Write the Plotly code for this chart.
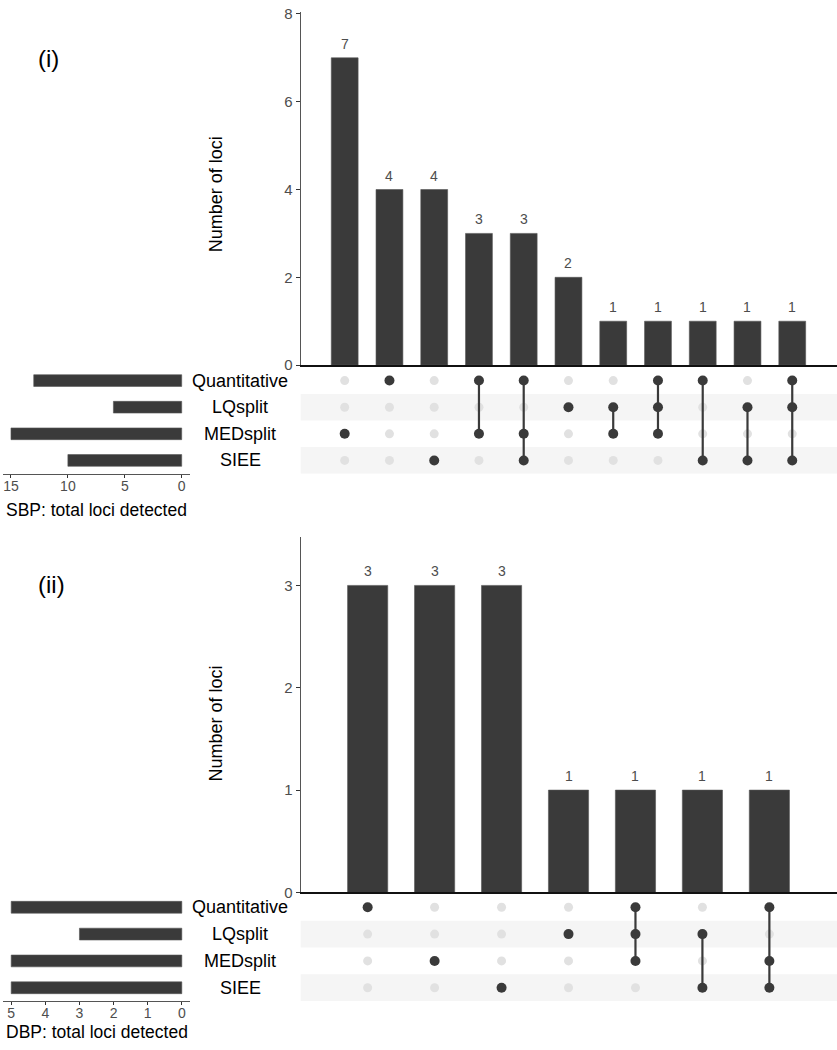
import plotly.graph_objects as go

# ---------------- data ----------------
sets = ["Quantitative", "LQsplit", "MEDsplit", "SIEE"]

sbp_counts = [7, 4, 4, 3, 3, 2, 1, 1, 1, 1, 1]
sbp_members = [
    ["MEDsplit"],
    ["Quantitative"],
    ["SIEE"],
    ["Quantitative", "MEDsplit"],
    ["Quantitative", "MEDsplit", "SIEE"],
    ["LQsplit"],
    ["LQsplit", "MEDsplit"],
    ["Quantitative", "LQsplit", "MEDsplit"],
    ["Quantitative", "SIEE"],
    ["LQsplit", "SIEE"],
    ["Quantitative", "LQsplit", "SIEE"],
]
sbp_set_sizes = [13, 6, 15, 10]
sbp_ticks = [0, 2, 4, 6, 8]
sbp_size_ticks = [0, 5, 10, 15]

dbp_counts = [3, 3, 3, 1, 1, 1, 1]
dbp_members = [
    ["Quantitative"],
    ["MEDsplit"],
    ["SIEE"],
    ["LQsplit"],
    ["Quantitative", "LQsplit", "MEDsplit"],
    ["LQsplit", "SIEE"],
    ["Quantitative", "MEDsplit", "SIEE"],
]
dbp_set_sizes = [5, 3, 5, 5]
dbp_ticks = [0, 1, 2, 3]
dbp_size_ticks = [0, 1, 2, 3, 4, 5]

panel_labels = ["(i)", "(ii)"]
size_titles = ["SBP: total loci detected", "DBP: total loci detected"]
y_title = "Number of loci"

# ---------------- layout helpers ----------------
W, H = 837, 1050
FONT = "Liberation Sans, Arial, sans-serif"
DARK = "#3a3a3a"
LIGHT = "#e1e1e1"
BAND = "#f5f5f5"
TICKC = "#4d4d4d"


def fx(px):
    return px / W


def fy(py):
    return 1 - py / H


fig = go.Figure()
layout = dict(
    width=W, height=H, margin=dict(l=0, r=0, t=0, b=0),
    paper_bgcolor="white", plot_bgcolor="white", showlegend=False,
    font=dict(family=FONT, color="black"),
    shapes=[], annotations=[],
)

panels = [
    dict(counts=sbp_counts, members=sbp_members, sizes=sbp_set_sizes,
         ticks=sbp_ticks, size_ticks=sbp_size_ticks,
         xr=[-0.983, 11.0], bar_dom=(363.3, 5.0), bar_top=8.045,
         mat_dom=(473.5, 365.5), size_xr=[15.7, -0.73],
         label_xy=(48, 52), ytitle_y=190, stitle_y=510),
    dict(counts=dbp_counts, members=dbp_members, sizes=dbp_set_sizes,
         ticks=dbp_ticks, size_ticks=dbp_size_ticks,
         xr=[-1.0, 7.01], bar_dom=(898.3, 538.0), bar_top=3.47,
         mat_dom=(1008.6, 899.7), size_xr=[5.24, -0.24],
         label_xy=(51, 586), ytitle_y=727, stitle_y=1040),
]

for p_i, p in enumerate(panels):
    n = len(p["counts"])
    xs = list(range(n))
    base = p_i * 3
    ax_bar, ax_mat, ax_size = base + 1, base + 2, base + 3

    def nm(k):
        return "" if k == 1 else str(k)

    # --- intersection bars ---
    fig.add_trace(go.Bar(
        x=xs, y=p["counts"], width=0.6,
        marker=dict(color=DARK, line=dict(color="#555555", width=0.6)),
        xaxis="x" + nm(ax_bar), yaxis="y" + nm(ax_bar), hoverinfo="skip"))
    for xi, c in zip(xs, p["counts"]):
        layout["annotations"].append(dict(
            x=xi, y=c, xref="x" + nm(ax_bar), yref="y" + nm(ax_bar),
            text=str(c), showarrow=False, yanchor="bottom", yshift=4,
            font=dict(size=14, color=TICKC, family=FONT)))

    layout["xaxis" + nm(ax_bar)] = dict(
        domain=[fx(300.7), 1.0], range=p["xr"], anchor="y" + nm(ax_bar),
        showticklabels=False, ticks="", showgrid=False, zeroline=False,
        showline=True, linecolor="#111111", linewidth=1.6)
    layout["yaxis" + nm(ax_bar)] = dict(
        domain=[fy(p["bar_dom"][0]), fy(p["bar_dom"][1])],
        range=[0, p["bar_top"]], anchor="x" + nm(ax_bar),
        tickvals=p["ticks"], ticks="outside", ticklen=4, tickcolor="#333333",
        tickfont=dict(size=15, color=TICKC, family=FONT),
        ticklabeloverflow="allow",
        showgrid=False, zeroline=False, showline=True,
        linecolor="#555555", linewidth=1)

    # --- matrix ---
    mdom = [fy(p["mat_dom"][0]), fy(p["mat_dom"][1])]
    layout["xaxis" + nm(ax_mat)] = dict(
        domain=[fx(300.7), 1.0], range=p["xr"], anchor="y" + nm(ax_mat),
        visible=False)
    layout["yaxis" + nm(ax_mat)] = dict(
        domain=mdom, range=[3.5, -0.5], anchor="x" + nm(ax_mat), visible=False)
    for r in (1, 3):
        layout["shapes"].append(dict(
            type="rect", xref="x" + nm(ax_mat) + " domain", yref="y" + nm(ax_mat),
            x0=0, x1=1, y0=r - 0.5, y1=r + 0.5, fillcolor=BAND,
            line=dict(width=0), layer="below"))

    lx, ly = [], []
    for xi in xs:
        for r, s in enumerate(sets):
            if s not in p["members"][xi]:
                lx.append(xi)
                ly.append(r)
    fig.add_trace(go.Scatter(
        x=lx, y=ly, mode="markers", marker=dict(size=9, color=LIGHT),
        xaxis="x" + nm(ax_mat), yaxis="y" + nm(ax_mat), hoverinfo="skip"))
    for xi in xs:
        rows = [sets.index(s) for s in p["members"][xi]]
        if len(rows) > 1:
            fig.add_trace(go.Scatter(
                x=[xi, xi], y=[min(rows), max(rows)], mode="lines",
                line=dict(color=DARK, width=2.2),
                xaxis="x" + nm(ax_mat), yaxis="y" + nm(ax_mat), hoverinfo="skip"))
    dx, dy = [], []
    for xi in xs:
        for s in p["members"][xi]:
            dx.append(xi)
            dy.append(sets.index(s))
    fig.add_trace(go.Scatter(
        x=dx, y=dy, mode="markers", marker=dict(size=10, color=DARK),
        xaxis="x" + nm(ax_mat), yaxis="y" + nm(ax_mat), hoverinfo="skip"))

    # --- set sizes ---
    fig.add_trace(go.Bar(
        x=p["sizes"], y=list(range(len(sets))), orientation="h", width=0.44,
        marker=dict(color=DARK, line=dict(color="#555555", width=0.6)),
        xaxis="x" + nm(ax_size), yaxis="y" + nm(ax_size), hoverinfo="skip"))
    layout["xaxis" + nm(ax_size)] = dict(
        domain=[fx(3), fx(190)], range=p["size_xr"], anchor="y" + nm(ax_size),
        tickvals=p["size_ticks"], ticks="outside", ticklen=3, tickcolor="#333333",
        tickfont=dict(size=14, color=TICKC, family=FONT),
        ticklabeloverflow="allow", ticklabelstandoff=-4,
        showgrid=False, zeroline=False, showline=True,
        linecolor="#555555", linewidth=1)
    layout["yaxis" + nm(ax_size)] = dict(
        domain=mdom, range=[3.5, -0.5], anchor="x" + nm(ax_size), visible=False)

    # set names
    for r, s in enumerate(sets):
        layout["annotations"].append(dict(
            x=fx(240), y=r, xref="paper", yref="y" + nm(ax_mat), text=s,
            showarrow=False, xanchor="center", yanchor="middle",
            font=dict(size=18, color="black", family=FONT)))

    # titles
    layout["annotations"].append(dict(
        x=fx(96.5), y=fy(p["stitle_y"]), xref="paper", yref="paper",
        text=size_titles[p_i], showarrow=False, xanchor="center", yanchor="middle",
        font=dict(size=17.5, color="black", family=FONT)))
    layout["annotations"].append(dict(
        x=fx(216), y=fy(p["ytitle_y"]), xref="paper", yref="paper",
        text=y_title, textangle=-90, showarrow=False,
        xanchor="center", yanchor="middle",
        font=dict(size=18, color="black", family=FONT)))
    layout["annotations"].append(dict(
        x=fx(p["label_xy"][0]), y=fy(p["label_xy"][1]), xref="paper", yref="paper",
        text=panel_labels[p_i], showarrow=False, xanchor="center", yanchor="middle",
        font=dict(size=24, color="black", family=FONT)))

fig.update_layout(**layout)
fig.write_html(
    "out.html",
    config={"displayModeBar": False},
    post_script="document.body.style.margin='0px';"
                "document.body.style.overflow='hidden';",
)
